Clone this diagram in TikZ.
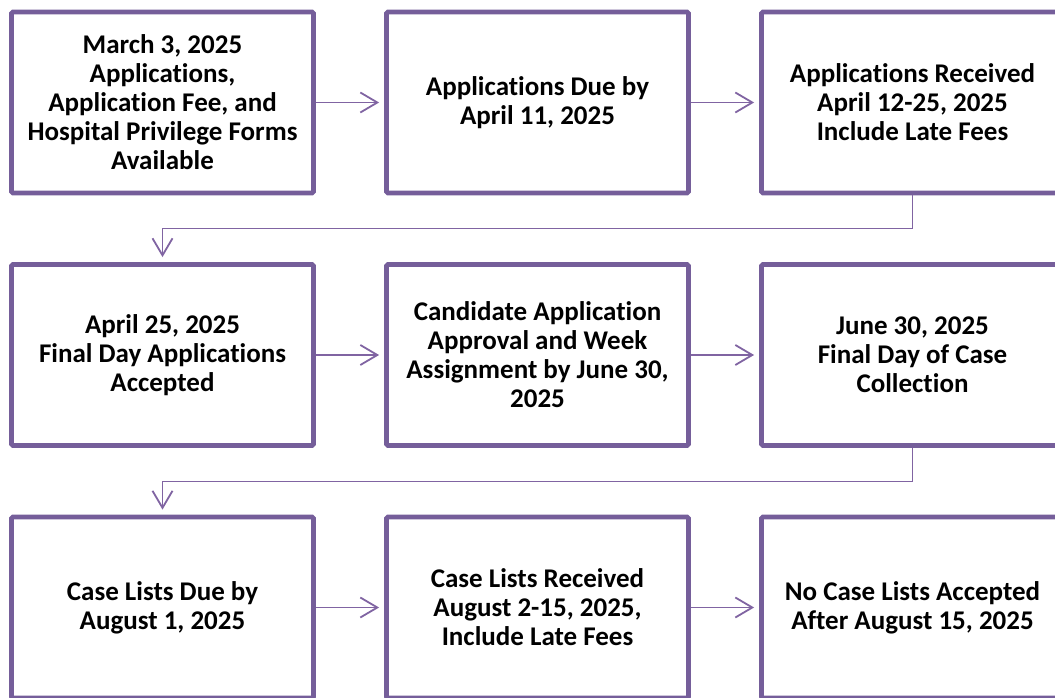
\documentclass[tikz,border=0pt]{standalone}
\usepackage{fontspec}
\setmainfont{Carlito}[Ligatures={NoCommon}, RawFeature={-liga;-clig;-dlig}]
\usetikzlibrary{arrows.meta, positioning}
\definecolor{stageline}{RGB}{117,94,154}
\definecolor{flowline}{RGB}{128,100,162}
\tikzstyle{stage}=[draw=stageline, line width=4.8pt, fill=white, rounded corners=1.5pt, minimum width=302pt, minimum height=181pt, inner sep=0pt, align=center, font=\bfseries\fontsize{27}{29}\selectfont]
\tikzstyle{flow}=[draw=flowline, line width=1.8pt, -{Straight Barb[length=17pt,width=20pt]}, shorten >=5pt]

\begin{document}
\begin{tikzpicture}[x=1pt,y=-1pt]
    % page frame, right column and last row run off the edge
    \clip (0,0) rectangle (1055,698);

    \node (s1)[stage] at (162.5, 102.5) {March 3, 2025\\Applications,\\Application Fee, and\\Hospital Privilege Forms\\Available};
    \node (s2)[stage] at (537.5, 102.5) {Applications Due by\\April 11, 2025};
    \node (s3)[stage] at (912.5, 102.5) {Applications Received\\April 12-25, 2025\\Include Late Fees};

    \node (s4)[stage] at (162.5, 355) {April 25, 2025\\Final Day Applications\\Accepted};
    \node (s5)[stage] at (537.5, 355) {Candidate Application\\Approval and Week\\Assignment by June 30,\\2025};
    \node (s6)[stage] at (912.5, 355) {June 30, 2025\\Final Day of Case\\Collection};

    \node (s7)[stage] at (162.5, 607.5) {Case Lists Due by\\August 1, 2025};
    \node (s8)[stage] at (537.5, 607.5) {Case Lists Received\\August 2-15, 2025,\\Include Late Fees};
    \node (s9)[stage] at (912.5, 607.5) {No Case Lists Accepted\\After August 15, 2025};

    % straight steps along each row
    \draw[flow] (s1) -- (s2);
    \draw[flow] (s2) -- (s3);
    \draw[flow] (s4) -- (s5);
    \draw[flow] (s5) -- (s6);
    \draw[flow] (s7) -- (s8);
    \draw[flow] (s8) -- (s9);

    % elbows from row to row
    \coordinate (k1) at (912.5, 228.5);
    \coordinate (k2) at (912.5, 481.5);
    \draw[flow] (s3.south) -- (k1) -- (s4.north |- k1) -- (s4.north);
    \draw[flow] (s6.south) -- (k2) -- (s7.north |- k2) -- (s7.north);

\end{tikzpicture}
\end{document}
